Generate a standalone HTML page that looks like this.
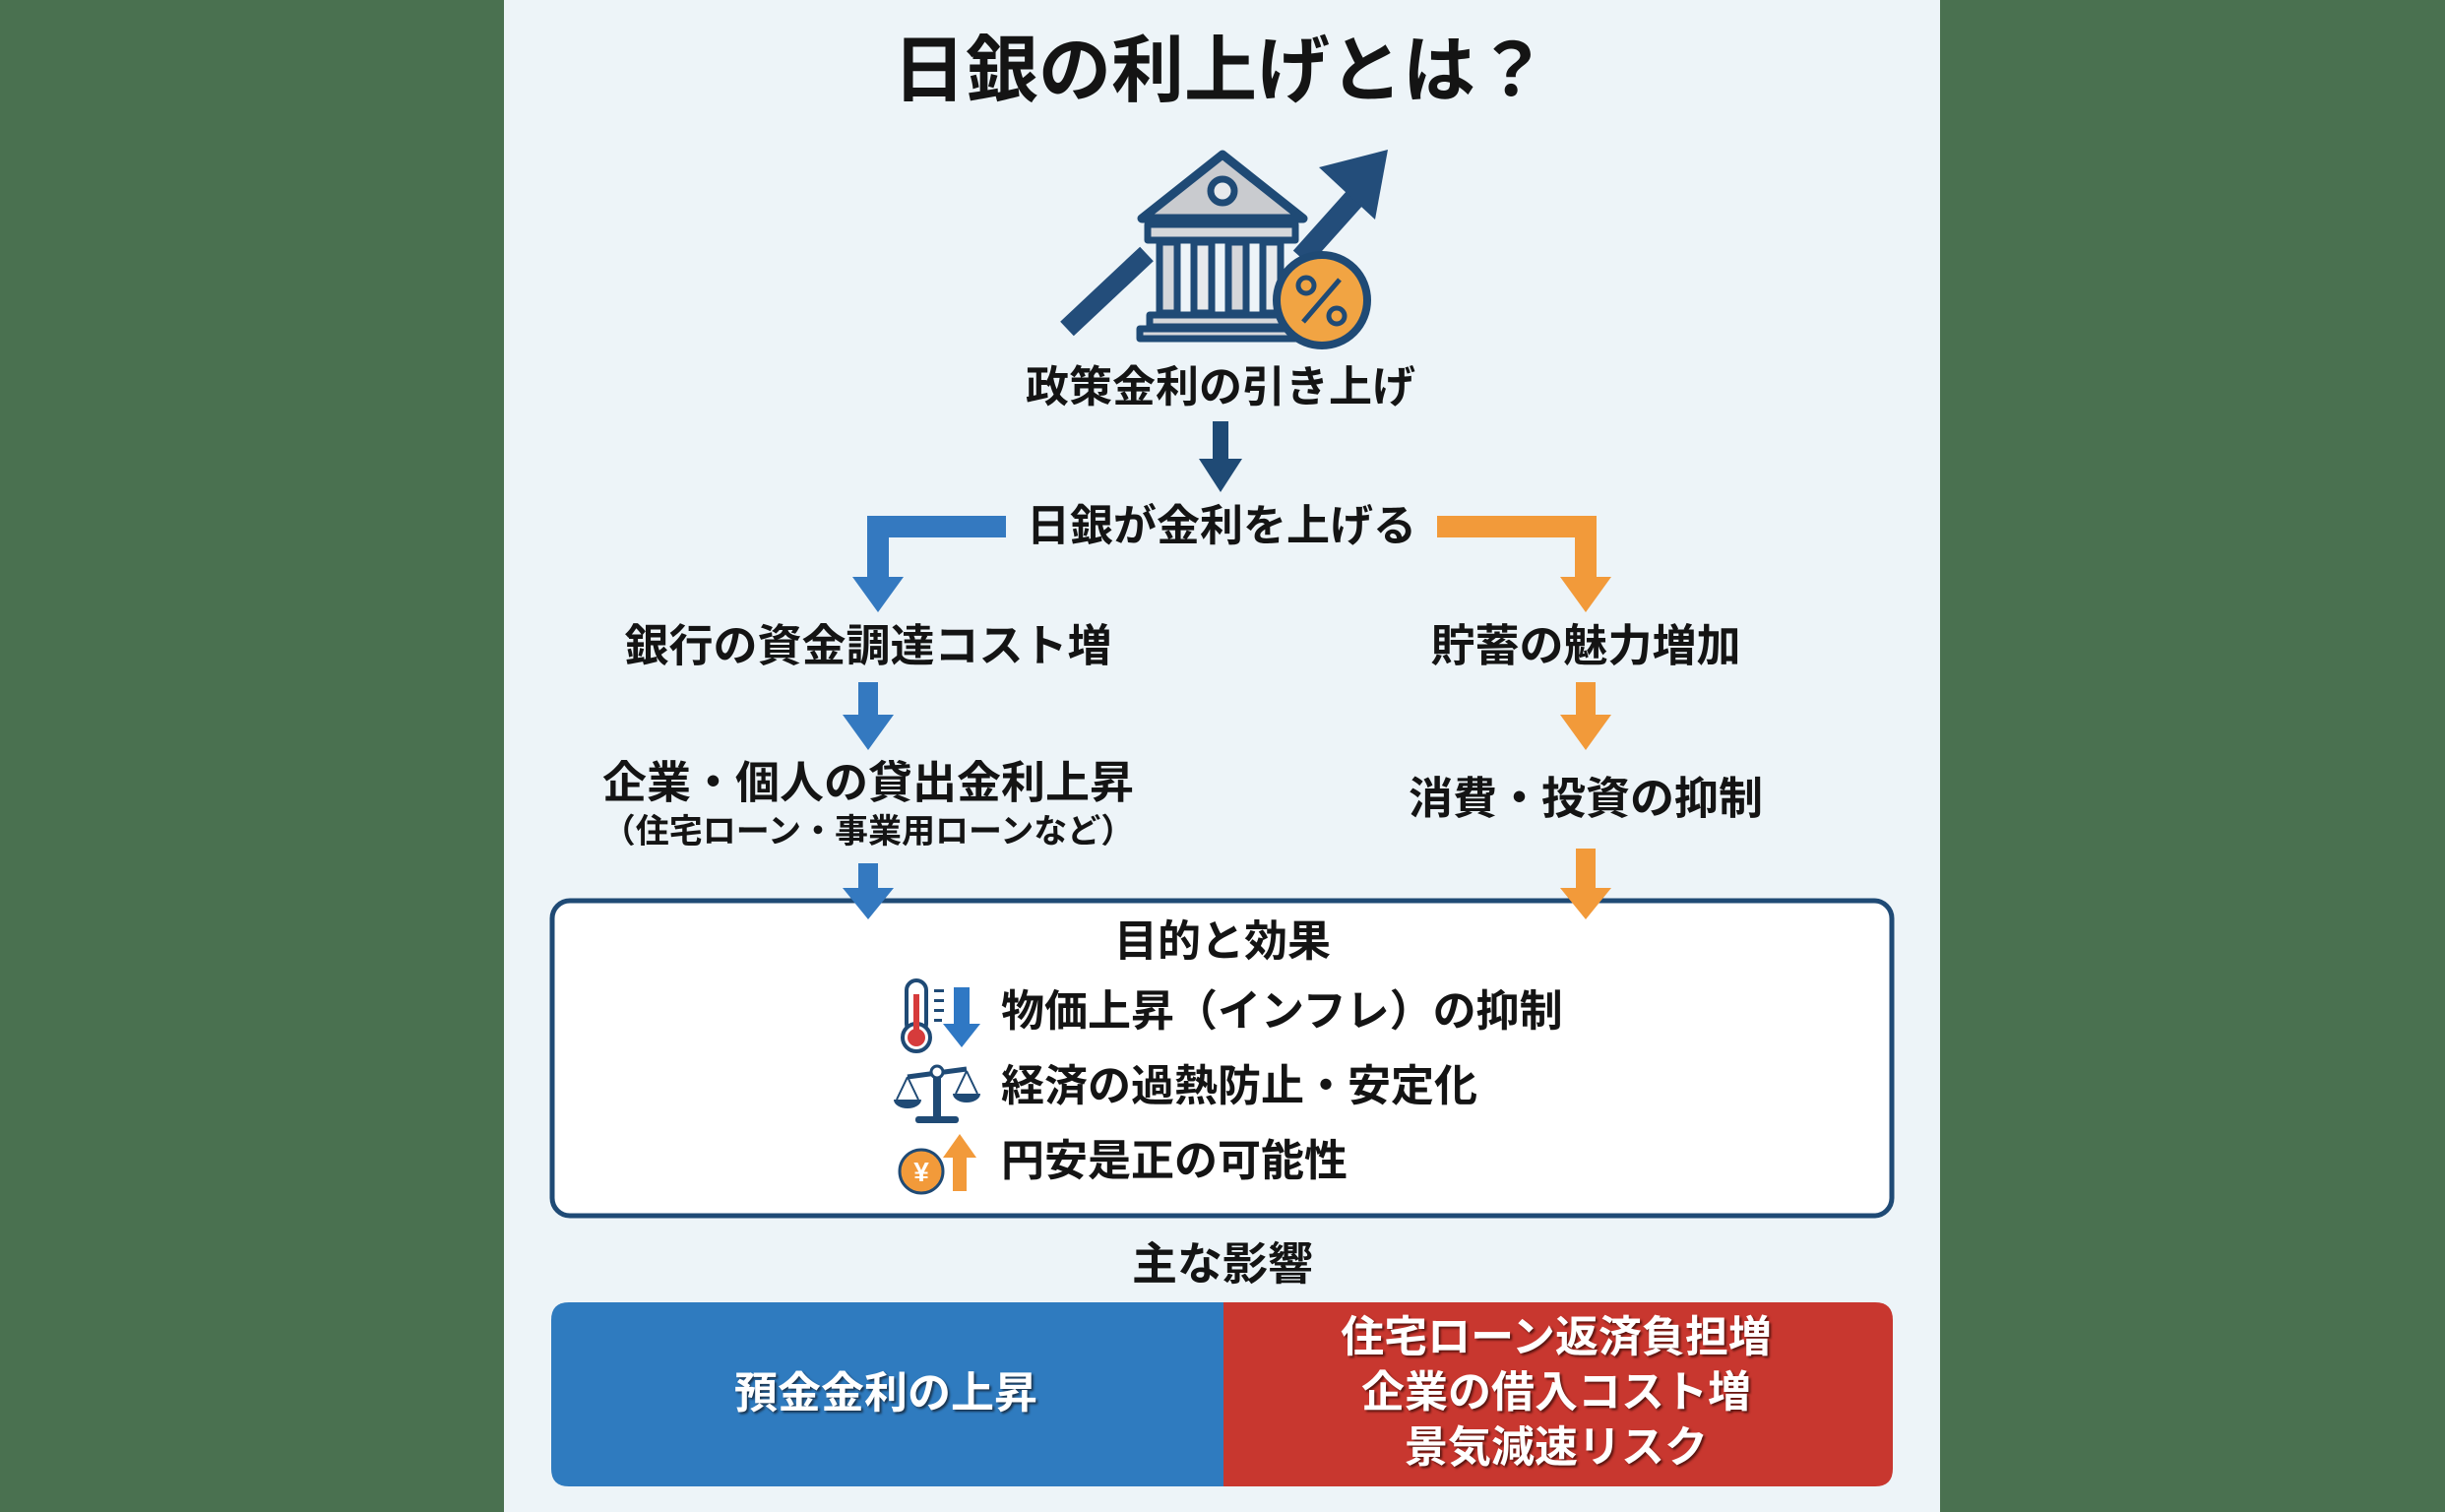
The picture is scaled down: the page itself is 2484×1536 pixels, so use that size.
<!DOCTYPE html>
<html><head><meta charset="utf-8">
<style>
html,body{margin:0;padding:0}
body{width:2484px;height:1536px;background:#4a7150;position:relative;overflow:hidden;font-family:"Liberation Sans","Noto Sans CJK JP",sans-serif;}
#panel{position:absolute;left:512px;top:0;width:1459px;height:1536px;background:#edf4f8;}
.t{position:absolute;font-weight:700;color:#141414;white-space:nowrap;transform:translate(-50%,-50%);line-height:1;}
svg{position:absolute;left:0;top:0}
</style></head><body>
<div id="panel"></div>
<svg width="2484" height="1536" viewBox="0 0 2484 1536">
  <!-- top icon arrow -->
  <line x1="1084" y1="334" x2="1165" y2="258" stroke="#234d7a" stroke-width="20"/>
  <line x1="1322" y1="262" x2="1382" y2="195" stroke="#234d7a" stroke-width="22"/>
  <polygon points="1340,170 1410,152 1397,223" fill="#234d7a"/>
  <g stroke="#1f4a75" stroke-linejoin="round">
    <polygon points="1160,222 1242,157 1324,222" fill="#c9cbcf" stroke-width="9"/>
    <circle cx="1242" cy="194" r="12" fill="#e8eaec" stroke-width="7"/>
    <rect x="1166" y="228" width="150" height="16" fill="#d5d7da" stroke-width="7"/>
    <rect x="1178" y="246" width="18" height="72" fill="#d5d7da" stroke-width="7"/>
    <rect x="1213" y="246" width="18" height="72" fill="#e8eaec" stroke-width="7"/>
    <rect x="1248" y="246" width="18" height="72" fill="#d5d7da" stroke-width="7"/>
    <rect x="1283" y="246" width="18" height="72" fill="#e8eaec" stroke-width="7"/>
    <rect x="1168" y="320" width="148" height="12" fill="#d5d7da" stroke-width="7"/>
    <rect x="1158" y="334" width="166" height="10" fill="#d5d7da" stroke-width="7"/>
    <circle cx="1343" cy="305" r="46" fill="#f1a443" stroke-width="8"/>
    <circle cx="1327" cy="290" r="8" fill="none" stroke-width="5"/>
    <circle cx="1358" cy="321" r="8" fill="none" stroke-width="5"/>
    <line x1="1324" y1="327" x2="1361" y2="284" stroke-width="5"/>
  </g>
  <!-- center down arrow -->
  <rect x="1232" y="428" width="16" height="42" fill="#1f4a75"/>
  <polygon points="1218,466 1262,466 1240,500" fill="#1f4a75"/>
  <!-- left blue connector -->
  <path d="M1022 535 L892 535 L892 588" fill="none" stroke="#3479c0" stroke-width="22"/>
  <polygon points="866,586 918,586 892,622" fill="#3479c0"/>
  <!-- right orange connector -->
  <path d="M1460 535 L1611 535 L1611 588" fill="none" stroke="#f29a3a" stroke-width="22"/>
  <polygon points="1585,586 1637,586 1611,622" fill="#f29a3a"/>
  <!-- mid arrows -->
  <rect x="872" y="693" width="20" height="36" fill="#3479c0"/>
  <polygon points="856,726 908,726 882,762" fill="#3479c0"/>
  <rect x="1601" y="693" width="20" height="36" fill="#f29a3a"/>
  <polygon points="1585,726 1637,726 1611,762" fill="#f29a3a"/>
  <!-- box -->
  <rect x="561" y="915" width="1361" height="320" rx="18" fill="#fff" stroke="#1f4a75" stroke-width="5"/>
  <rect x="872" y="877" width="20" height="28" fill="#3479c0"/>
  <polygon points="856,902 908,902 882,934" fill="#3479c0"/>
  <rect x="1601" y="862" width="20" height="42" fill="#f29a3a"/>
  <polygon points="1585,902 1637,902 1611,934" fill="#f29a3a"/>
  <!-- thermometer -->
  <g>
    <rect x="921" y="996" width="20" height="54" rx="10" fill="#fff" stroke="#1f4a75" stroke-width="4"/>
    <circle cx="931" cy="1054" r="14" fill="#fff" stroke="#1f4a75" stroke-width="4"/>
    <circle cx="931" cy="1054" r="9" fill="#d63b3b"/>
    <rect x="928" y="1010" width="6" height="40" fill="#d63b3b"/>
    <rect x="949" y="1005" width="10" height="3" fill="#1f4a75"/><rect x="949" y="1015" width="10" height="3" fill="#1f4a75"/><rect x="949" y="1025" width="10" height="3" fill="#1f4a75"/><rect x="949" y="1035" width="8" height="3" fill="#1f4a75"/>
    <rect x="969" y="1003" width="16" height="40" fill="#2f78c4"/>
    <polygon points="958,1040 996,1040 977,1064" fill="#2f78c4"/>
  </g>
  <!-- scale -->
  <g stroke="#1f4a75" fill="#1f4a75">
    <line x1="922" y1="1094" x2="982" y2="1086" stroke-width="5"/>
    <circle cx="952" cy="1089" r="6" fill="#fff" stroke-width="3"/>
    <rect x="948" y="1095" width="8" height="40" stroke="none"/>
    <rect x="930" y="1134" width="44" height="7" rx="3" stroke="none"/>
    <path d="M922 1094 L911 1117 M922 1094 L933 1117" fill="none" stroke-width="2"/>
    <path d="M908 1117 h28 a14 9 0 0 1 -28 0z" stroke="none"/>
    <path d="M982 1088 L971 1111 M982 1088 L993 1111" fill="none" stroke-width="2"/>
    <path d="M968 1111 h28 a14 9 0 0 1 -28 0z" stroke="none"/>
  </g>
  <!-- yen -->
  <g>
    <circle cx="936" cy="1190" r="22" fill="#f29a3a" stroke="#1f4a75" stroke-width="3"/>
    <text x="936" y="1200" font-size="28" font-weight="700" fill="#fff" text-anchor="middle" font-family="Liberation Sans, Noto Sans CJK JP, sans-serif">¥</text>
    <rect x="968" y="1172" width="14" height="38" fill="#f29a3a"/>
    <polygon points="958,1176 992,1176 975,1152" fill="#f29a3a"/>
  </g>
  <!-- bottom boxes -->
  <path d="M1243 1323 L578 1323 Q560 1323 560 1341 L560 1492 Q560 1510 578 1510 L1243 1510 Z" fill="#2f7bbf"/>
  <path d="M1243 1323 L1905 1323 Q1923 1323 1923 1341 L1923 1492 Q1923 1510 1905 1510 L1243 1510 Z" fill="#c8372f"/>
</svg>
<div class="t" style="left:1240px;top:72px;font-size:74px;">日銀の利上げとは？</div>
<div class="t" style="left:1240px;top:394px;font-size:44px;">政策金利の引き上げ</div>
<div class="t" style="left:1241px;top:535px;font-size:44px;">日銀が金利を上げる</div>
<div class="t" style="left:882px;top:656px;font-size:45px;">銀行の資金調達コスト増</div>
<div class="t" style="left:1611px;top:656px;font-size:45px;">貯蓄の魅力増加</div>
<div class="t" style="left:882px;top:795px;font-size:45px;">企業・個人の貸出金利上昇</div>
<div class="t" style="left:882px;top:845px;font-size:34px;">（住宅ローン・事業用ローンなど）</div>
<div class="t" style="left:1611px;top:811px;font-size:45px;">消費・投資の抑制</div>
<div class="t" style="left:1242px;top:957px;font-size:44px;">目的と効果</div>
<div class="t" style="left:1017px;top:1028px;font-size:44px;transform:translate(0,-50%);">物価上昇（インフレ）の抑制</div>
<div class="t" style="left:1017px;top:1104px;font-size:44px;transform:translate(0,-50%);">経済の過熱防止・安定化</div>
<div class="t" style="left:1017px;top:1180px;font-size:44px;transform:translate(0,-50%);">円安是正の可能性</div>
<div class="t" style="left:1242px;top:1284px;font-size:46px;">主な影響</div>
<div class="t" style="left:900px;top:1416px;font-size:44px;color:#fff;text-shadow:2px 2px 2px #1a3550;">預金金利の上昇</div>
<div class="t" style="left:1581px;top:1359px;font-size:44px;color:#fff;text-shadow:2px 2px 2px #5a1510;">住宅ローン返済負担増</div>
<div class="t" style="left:1581px;top:1415px;font-size:44px;color:#fff;text-shadow:2px 2px 2px #5a1510;">企業の借入コスト増</div>
<div class="t" style="left:1581px;top:1471px;font-size:44px;color:#fff;text-shadow:2px 2px 2px #5a1510;">景気減速リスク</div>
</body></html>
